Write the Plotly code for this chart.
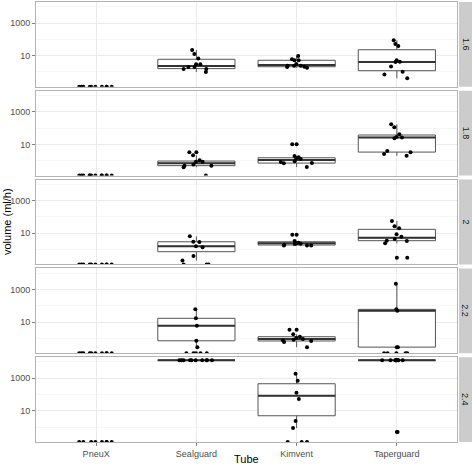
import plotly.graph_objects as go
from plotly.subplots import make_subplots

facets = ["1.6", "1.8", "2", "2.2", "2.4"]
tubes = ["PneuX", "Sealguard", "Kimvent", "Taperguard"]

# leak volume (ml/h) per tube, one dict per facet; 0 = no leak (drawn on the panel floor)
vol_16 = {
    "PneuX": [0, 0, 0, 0, 0, 0, 0, 0, 0, 0],
    "Sealguard": [22, 12.6, 6.6, 1.5, 2.0, 2.95, 2.0, 1.5, 1.0, 2.95],
    "Kimvent": [5.2, 6.0, 9.5, 5.2, 2.4, 2.4, 3.1, 2.1, 1.8, 2.0, 2.4],
    "Taperguard": [87, 52, 39, 4.2, 5.2, 4.1, 2.2, 0.71, 1.03, 0.41],
}
vol_18 = {
    "PneuX": [0, 0, 0, 0, 0, 0, 0, 0, 0, 0, 0, 0],
    "Sealguard": [0.87, 0.40, 0.60, 0.87, 3.3, 2.15, 1.06, 0.50, 0.50, 0],
    "Kimvent": [10.2, 1.28, 1.95, 1.62, 1.41, 0.70, 0.41, 0.72, 0.92, 0.84],
    "Taperguard": [112, 172, 42, 27, 28.5, 23.8, 3.3, 2.0, 2.6, 3.95],
}
vol_20 = {
    "PneuX": [0, 0, 0, 0, 0, 0, 0, 0, 0, 0],
    "Sealguard": [6.5, 3.0, 2.9, 1.37, 1.58, 0.40, 0.21, 0, 0, 0],
    "Kimvent": [8.1, 1.8, 1.8, 2.6, 2.2, 2.4, 1.8, 3.3, 2.0, 2.3],
    "Taperguard": [56, 26.6, 20, 8.6, 6.1, 4.4, 3.5, 3.3, 2.4, 0.32],
}
vol_22 = {
    "PneuX": [0, 0, 0, 0, 0, 0, 0, 0, 0, 0],
    "Sealguard": [60, 17, 6.0, 0.71, 0.29, 0, 0, 0, 0, 0],
    "Kimvent": [3.4, 1.77, 1.26, 0.76, 0.69, 0.82, 1.05, 0.60, 0.29, 0.9],
    "Taperguard": [2240, 60, 50, 0.29, 0.29, 0, 0, 0, 0, 0],
}
vol_24 = {
    "PneuX": [0, 0, 0, 0, 0, 0, 0, 0],
    "Sealguard": [12600, 12600, 12600, 12600, 12600, 12600, 12600, 12600, 12600, 12600],
    "Kimvent": [1900, 700, 130, 53, 2.4, 0.88, 0, 0, 0],
    "Taperguard": [12600, 12600, 12600, 12600, 12600, 12600, 12600, 12600, 12600, 0.5],
}

# boxplot stats: [lower whisker, q1, median, q3, upper whisker]
box_16 = {
    "Sealguard": [1.0, 1.6, 2.3, 6.0, 22],
    "Kimvent": [1.8, 2.1, 2.66, 5.2, 9.5],
    "Taperguard": [0.41, 1.19, 4.1, 23, 87],
}
box_18 = {
    "Sealguard": [0.40, 0.50, 0.70, 0.96, 2.15],
    "Kimvent": [0.41, 0.72, 1.1, 1.53, 1.95],
    "Taperguard": [2.0, 3.4, 27, 38, 172],
}
box_20 = {
    "Sealguard": [0.21, 0.74, 1.58, 3.0, 6.5],
    "Kimvent": [1.8, 1.9, 2.4, 3.0, 3.3],
    "Taperguard": [2.4, 3.5, 5.3, 17.4, 56],
}
box_22 = {
    "Sealguard": [0.29, 0.71, 6.0, 17, 60],
    "Kimvent": [0.29, 0.69, 0.91, 1.26, 1.77],
    "Taperguard": [0.29, 0.29, 50, 60, 2240],
}
box_24 = {
    "Sealguard": [12600, 12600, 12600, 12600, 12600],
    "Kimvent": [0.88, 5.0, 85, 460, 1900],
    "Taperguard": [12600, 12600, 12600, 12600, 12600],
}

vols = [vol_16, vol_18, vol_20, vol_22, vol_24]
boxes = [box_16, box_18, box_20, box_22, box_24]

# log10 y range shared by all panels
y_lo, y_hi = -0.91, 4.29
floor = 10 ** y_lo  # zeros sit on the panel edge, like -Inf in ggplot

fig = make_subplots(rows=5, cols=1, shared_xaxes=True, vertical_spacing=4 / 440)

for r, (vol, stats) in enumerate(zip(vols, boxes), start=1):
    for tube in tubes:
        vals = vol[tube]
        if tube in stats:
            lo, q1, med, q3, hi = stats[tube]
            fig.add_trace(go.Box(x=[tube], q1=[q1], median=[med], q3=[q3],
                                 lowerfence=[lo], upperfence=[hi], orientation='v',
                                 width=0.77, whiskerwidth=0, fillcolor='white',
                                 line=dict(color='#555555', width=1),
                                 hoverinfo='skip'), row=r, col=1)
            # thicker median line
            fig.add_trace(go.Box(x=[tube], q1=[med], median=[med], q3=[med],
                                 lowerfence=[med], upperfence=[med], orientation='v',
                                 width=0.77, whiskerwidth=0,
                                 fillcolor='rgba(0,0,0,0)',
                                 line=dict(color='#333333', width=2),
                                 hoverinfo='skip'), row=r, col=1)
            out = [v for v in vals if v > 0 and (v < lo * 0.999 or v > hi * 1.001)]
            if out:
                fig.add_trace(go.Scatter(x=[tube] * len(out), y=out, mode='markers',
                                         marker=dict(color='black', size=4),
                                         hoverinfo='skip'), row=r, col=1)
        shown = [v if v > 0 else floor for v in vals]
        # jittered raw points
        fig.add_trace(go.Box(x=[tube] * len(shown), y=shown, boxpoints='all',
                             jitter=1, pointpos=0, width=0.4,
                             fillcolor='rgba(0,0,0,0)',
                             line=dict(color='rgba(0,0,0,0)', width=0),
                             marker=dict(color='black', size=4, line=dict(width=0)),
                             hoverinfo='skip'), row=r, col=1)

fig.update_layout(
    width=472, height=465,
    margin=dict(l=36, r=15, t=2, b=23),
    plot_bgcolor='white', paper_bgcolor='white',
    showlegend=False, boxmode='overlay',
    font=dict(family='Liberation Sans, Arial, sans-serif', size=9, color='#4d4d4d'),
)

fig.update_xaxes(type='category', categoryorder='array', categoryarray=tubes,
                 range=[-0.6, 3.6], showgrid=True, gridcolor='#ebebeb',
                 showline=True, mirror=True, linecolor='#b3b3b3', linewidth=1,
                 zeroline=False, ticks='')
fig.update_xaxes(ticks='outside', ticklen=3, tickcolor='#7f7f7f', row=5, col=1)

fig.update_yaxes(type='log', range=[y_lo, y_hi], tickmode='array',
                 tickvals=[10, 1000], ticktext=['10', '1000'],
                 showgrid=True, gridcolor='#ebebeb',
                 minor=dict(tickmode='array', tickvals=[1, 100, 10000], showgrid=True,
                            gridcolor='#f6f6f6', ticks=''),
                 showline=True, mirror=True, linecolor='#b3b3b3', linewidth=1,
                 zeroline=False, ticks='outside', ticklen=3, tickcolor='#7f7f7f')

# facet strips on the right
plot_w = 472 - 36 - 15
for r, fac in enumerate(facets, start=1):
    dom = fig.layout['yaxis' if r == 1 else 'yaxis%d' % r].domain
    fig.add_shape(type='rect', xref='paper', yref='paper',
                  x0=1 + 2 / plot_w, x1=1 + 15 / plot_w, y0=dom[0], y1=dom[1],
                  fillcolor='#cccccc', line=dict(width=0), layer='below')
    fig.add_annotation(x=1 + 8.5 / plot_w, y=(dom[0] + dom[1]) / 2,
                       xref='paper', yref='paper', text=fac, showarrow=False,
                       xanchor='center', yanchor='middle',
                       textangle=90, font=dict(size=9, color='#1a1a1a'))

# axis titles
fig.add_annotation(x=-29 / plot_w, y=0.5, xref='paper', yref='paper',
                   text='volume (ml/h)', showarrow=False, textangle=-90,
                   xanchor='center', yanchor='middle',
                   font=dict(size=11, color='black'))
fig.add_annotation(x=0.5, y=-17 / 440, xref='paper', yref='paper',
                   text='Tube', showarrow=False, xanchor='center', yanchor='middle',
                   font=dict(size=11, color='black'))

# drop the browser's default page margin so the figure sits at the window corner
fig.write_html("out.html", config={'displayModeBar': False},
               post_script="document.body.style.margin='0';")
